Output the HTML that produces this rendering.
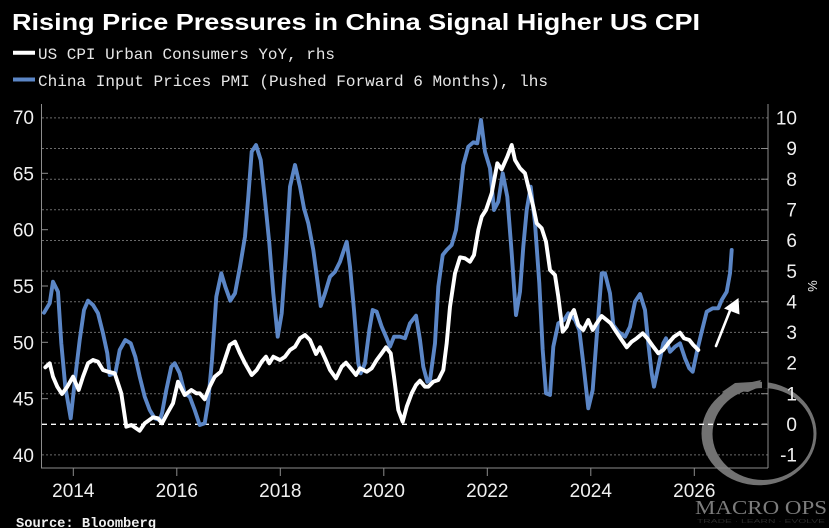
<!DOCTYPE html>
<html>
<head>
<meta charset="utf-8">
<style>
html,body{margin:0;padding:0;background:#000;}
body{width:829px;height:528px;overflow:hidden;}
svg{display:block;}
</style>
</head>
<body>
<svg width="829" height="528" viewBox="0 0 829 528" xmlns="http://www.w3.org/2000/svg">
<rect x="0" y="0" width="829" height="528" fill="#000"/>

<!-- Title -->
<text x="12" y="30" font-family="Liberation Sans, sans-serif" font-weight="bold" font-size="23" fill="#ffffff" textLength="688" lengthAdjust="spacingAndGlyphs">Rising Price Pressures in China Signal Higher US CPI</text>

<!-- Legend -->
<line x1="13" y1="52.7" x2="35" y2="52.7" stroke="#ffffff" stroke-width="4"/>
<text x="38" y="59" font-family="Liberation Mono, monospace" font-size="16" fill="#e6e6e6" textLength="297" lengthAdjust="spacingAndGlyphs">US CPI Urban Consumers YoY, rhs</text>
<line x1="13" y1="79.5" x2="35" y2="79.5" stroke="#5b86c6" stroke-width="4"/>
<text x="38" y="86" font-family="Liberation Mono, monospace" font-size="16" fill="#e6e6e6" textLength="510" lengthAdjust="spacingAndGlyphs">China Input Prices PMI (Pushed Forward 6 Months), lhs</text>

<!-- Gridlines (right axis values) -->
<g stroke="#6a6a6a" stroke-width="1" stroke-dasharray="2 2">
<line x1="42" y1="117.9" x2="768" y2="117.9"/>
<line x1="42" y1="148.5" x2="768" y2="148.5"/>
<line x1="42" y1="179.2" x2="768" y2="179.2"/>
<line x1="42" y1="209.8" x2="768" y2="209.8"/>
<line x1="42" y1="240.5" x2="768" y2="240.5"/>
<line x1="42" y1="271.1" x2="768" y2="271.1"/>
<line x1="42" y1="301.7" x2="768" y2="301.7"/>
<line x1="42" y1="332.4" x2="768" y2="332.4"/>
<line x1="42" y1="363" x2="768" y2="363"/>
<line x1="42" y1="393.7" x2="768" y2="393.7"/>
<line x1="42" y1="454.9" x2="768" y2="454.9"/>
</g>

<!-- Watermark ring -->
<g fill="#727272">
<path fill-rule="evenodd" d="M701.5,433.5 a57.5,51.7 0 1,0 115,0 a57.5,51.7 0 1,0 -115,0 Z M712.5,434 a50.5,46 0 1,0 101,0 a50.5,46 0 1,0 -101,0 Z"/>
<polygon points="722,392 735,383 752,382 761,380 757,388 748,392 738,391 728,396"/>
</g>
<rect x="762" y="379" width="6" height="9" fill="#000"/>

<!-- Zero line -->
<line x1="42" y1="424.3" x2="768" y2="424.3" stroke="#ffffff" stroke-width="1.3" stroke-dasharray="5 4"/>

<!-- Axes -->
<g stroke="#8c8c8c" stroke-width="1">
<line x1="41.5" y1="104" x2="41.5" y2="468"/>
<line x1="768" y1="104" x2="768" y2="468"/>
<line x1="41" y1="468" x2="768" y2="468"/>
<line x1="41" y1="173.3" x2="48" y2="173.3"/>
<line x1="41" y1="229.7" x2="48" y2="229.7"/>
<line x1="41" y1="286" x2="48" y2="286"/>
<line x1="41" y1="342.3" x2="48" y2="342.3"/>
<line x1="41" y1="398.7" x2="48" y2="398.7"/>
<line x1="761" y1="148.5" x2="768" y2="148.5"/>
<line x1="761" y1="179.2" x2="768" y2="179.2"/>
<line x1="761" y1="209.8" x2="768" y2="209.8"/>
<line x1="761" y1="240.5" x2="768" y2="240.5"/>
<line x1="761" y1="271.1" x2="768" y2="271.1"/>
<line x1="761" y1="301.7" x2="768" y2="301.7"/>
<line x1="761" y1="332.4" x2="768" y2="332.4"/>
<line x1="761" y1="363" x2="768" y2="363"/>
<line x1="761" y1="393.7" x2="768" y2="393.7"/>
<line x1="761" y1="424.3" x2="768" y2="424.3"/>
<line x1="73.3" y1="468" x2="73.3" y2="476"/>
<line x1="176.8" y1="468" x2="176.8" y2="476"/>
<line x1="280.3" y1="468" x2="280.3" y2="476"/>
<line x1="383.8" y1="468" x2="383.8" y2="476"/>
<line x1="487.3" y1="468" x2="487.3" y2="476"/>
<line x1="590.8" y1="468" x2="590.8" y2="476"/>
<line x1="694.3" y1="468" x2="694.3" y2="476"/>
</g>

<!-- Blue series -->
<polyline fill="none" stroke="#5b86c6" stroke-width="3.9" stroke-linejoin="round" stroke-linecap="round" points="44,312.7 49.7,303.3 53,281.7 58,291.7 61.3,343.3 65.3,386.7 70.7,418.3 75.3,376.7 79.7,340 84,310 88,300.7 93,305 98,313.3 103,333.3 107.3,353.3 109.7,375 115.3,373.3 119.7,350 125.3,340 130.7,343.3 135.3,356.7 139.7,376.7 144.7,396.7 149.7,410 154.7,418.3 159.7,420 162,413.3 166.3,390 171.3,366.7 174.7,363.3 179.7,373.3 184.7,393.3 189.7,396.7 194.7,410 199.7,425 204.7,423.3 208,403.3 212,360 216.3,296.7 221.3,273.3 225.3,286.7 230.3,300.7 235,293.3 240,266.7 245,236.7 248.3,196.7 251.7,151.7 256,145 260.7,160 265,200 269.3,243.3 273.3,293.3 277.7,336.7 281.7,313.3 286,253.3 290,186.7 295,165 300,186.7 304,208.3 308.3,223.3 313.3,250 317.3,280 320.7,306 325,293.3 330,276.7 335,271.7 340,261.7 346.7,241.7 350,266.7 354,310 358.3,363.3 360.7,373.3 365,363.3 369.3,330 372.7,310 376.7,311.7 381.7,326.7 386.7,338.3 390,346.7 394,336.7 400,336.7 405,338.3 410,323.3 416,315.7 420,340 423.3,366.7 427.3,381.7 430,380 435,343.3 438.3,286.7 442.7,255 446.7,250 451.7,245 456,230 459.3,203.3 463.3,165 468.3,146.7 473.3,142.3 477.3,143.3 481,120 485,151.7 490,168.3 494,210 498.3,201.7 502.7,173.3 507.3,196.7 511.7,253.3 516,315 520,291.7 523.3,246.7 526.7,210 530.7,186.7 535,223.3 539.3,283.3 542.7,350 546,393.3 550,395 553.3,346.7 558.3,323.3 564,320 568.3,313.3 575,320 579.3,330 583.3,363.3 588.3,408.3 592.7,390 596.7,336.7 601.7,273.3 605,273.3 610,293.3 613.3,325 618.3,331.7 625,336.7 630,326.7 635,301.7 640,294 645,310 648.3,343.3 651.7,373.3 654,386.7 658.3,366.7 663.3,343.3 666,338.3 670,351.7 675,346.7 680,343.3 685,358.3 689.3,368.3 692.7,371.7 697.3,350 701.7,331.7 706.7,311.7 712.7,308.3 718.3,308.3 721.7,300 726.7,291.7 730,273.3 731.7,250"/>

<!-- White series -->
<polyline fill="none" stroke="#ffffff" stroke-width="3.9" stroke-linejoin="round" stroke-linecap="round" points="45.3,367.3 49.7,363.3 53,376.7 57.3,386.7 62,394 67.3,386.7 73,376.7 78.7,390 83,376.7 88,363.3 93,360 98,361.7 103,370 108,371.7 114.7,373.3 121.3,393.3 126.3,426.7 131.3,425 139.7,430.7 144.7,423.3 153,417.3 158,418.3 162,423.3 167.3,413.3 173,403.3 178,381.7 184.7,395 191.3,390 196.3,393.3 199.7,393.3 204.7,399.3 209.7,386.7 214.7,376.7 220.7,371.7 224.7,360 229.7,345 235,341.7 240,353.3 245,363.3 251.7,375 256.7,370 261.7,361.7 266,356.7 269.3,363.3 273.3,356.7 280,360 285,356.7 290,350 295,346.7 300,338.3 305,335 310,340 316,354 320,347.3 325,358.3 330,370 336,378.3 341.7,366.7 346,362.7 350.7,368.3 356,375 360,368.3 366.7,371.7 371.7,368.3 376.7,360 381.7,353.3 386,347.3 390.7,353.3 394,376.7 398.3,410 402.7,421.7 406.7,406.7 411.7,393.3 416,385 420,380.7 425,386.7 428.3,386.7 433.3,381.7 438.3,380 443.3,370 446.7,343.3 450,306.7 455,273.3 460,257.3 465,258.3 470,261.7 474,255 478.3,230 481.7,216.7 486,210 491.7,193.3 497.3,163.3 501.7,169.3 507.3,156.7 511.7,145 515,160 520,168.3 525,173.3 528.3,186.7 533.3,206.7 536.7,223.3 541.7,228.3 546,241.7 550,270 555,275 558.3,296.7 562.7,331.7 566.7,326.7 570.7,315 574,310 578.3,325 583.3,330 588.3,320 592.7,330 596.7,323.3 601.7,316 606.7,320 610.7,323.3 615,330 621.7,340 626.7,347.3 631.7,341.7 636.7,338.3 642.7,333.3 647.3,338.3 653.3,346.7 658.3,353.3 663.3,350 668.3,343.3 674,336.7 680,332.7 684,338.3 689.3,340 693.3,345 698.3,350"/>

<!-- Arrow -->
<line x1="716" y1="346" x2="731" y2="308" stroke="#ffffff" stroke-width="2.6" stroke-linecap="round"/>
<polygon points="724,308.5 738.5,298 739.5,314.5" fill="#ffffff"/>

<!-- Left axis labels -->
<g font-family="Liberation Sans, sans-serif" font-size="19" fill="#f0f0f0" text-anchor="end">
<text x="34" y="124">70</text>
<text x="34" y="180.3">65</text>
<text x="34" y="236.7">60</text>
<text x="34" y="293">55</text>
<text x="34" y="349.3">50</text>
<text x="34" y="405.7">45</text>
<text x="34" y="462">40</text>
</g>

<!-- Right axis labels -->
<g font-family="Liberation Sans, sans-serif" font-size="19" fill="#f0f0f0" text-anchor="end">
<text x="797" y="124.6">10</text>
<text x="797" y="155.2">9</text>
<text x="797" y="185.9">8</text>
<text x="797" y="216.5">7</text>
<text x="797" y="247.2">6</text>
<text x="797" y="277.8">5</text>
<text x="797" y="308.4">4</text>
<text x="797" y="339.1">3</text>
<text x="797" y="369.7">2</text>
<text x="797" y="400.4">1</text>
<text x="797" y="431">0</text>
<text x="797" y="461.6">-1</text>
</g>
<text x="0" y="0" transform="translate(808,286) rotate(90)" font-family="Liberation Sans, sans-serif" font-size="13" fill="#f0f0f0" text-anchor="middle">%</text>

<!-- Year labels -->
<g font-family="Liberation Sans, sans-serif" font-size="19" fill="#f0f0f0" text-anchor="middle">
<text x="73.3" y="497">2014</text>
<text x="176.8" y="497">2016</text>
<text x="280.3" y="497">2018</text>
<text x="383.8" y="497">2020</text>
<text x="487.3" y="497">2022</text>
<text x="590.8" y="497">2024</text>
<text x="694.3" y="497">2026</text>
</g>

<!-- Source -->
<text x="16" y="527" font-family="Liberation Mono, monospace" font-weight="bold" font-size="14" fill="#f0f0f0" textLength="140" lengthAdjust="spacingAndGlyphs">Source: Bloomberg</text>

<!-- Watermark text -->
<text x="695" y="514" font-family="Liberation Serif, serif" font-size="20" fill="#7c7c7c" textLength="132" lengthAdjust="spacingAndGlyphs">MACRO OPS</text>
<text x="697" y="523" font-family="Liberation Sans, sans-serif" font-size="5" fill="#2a2a2a" textLength="128" lengthAdjust="spacingAndGlyphs">TRADE · LEARN · EVOLVE</text>
</svg>
</body>
</html>
